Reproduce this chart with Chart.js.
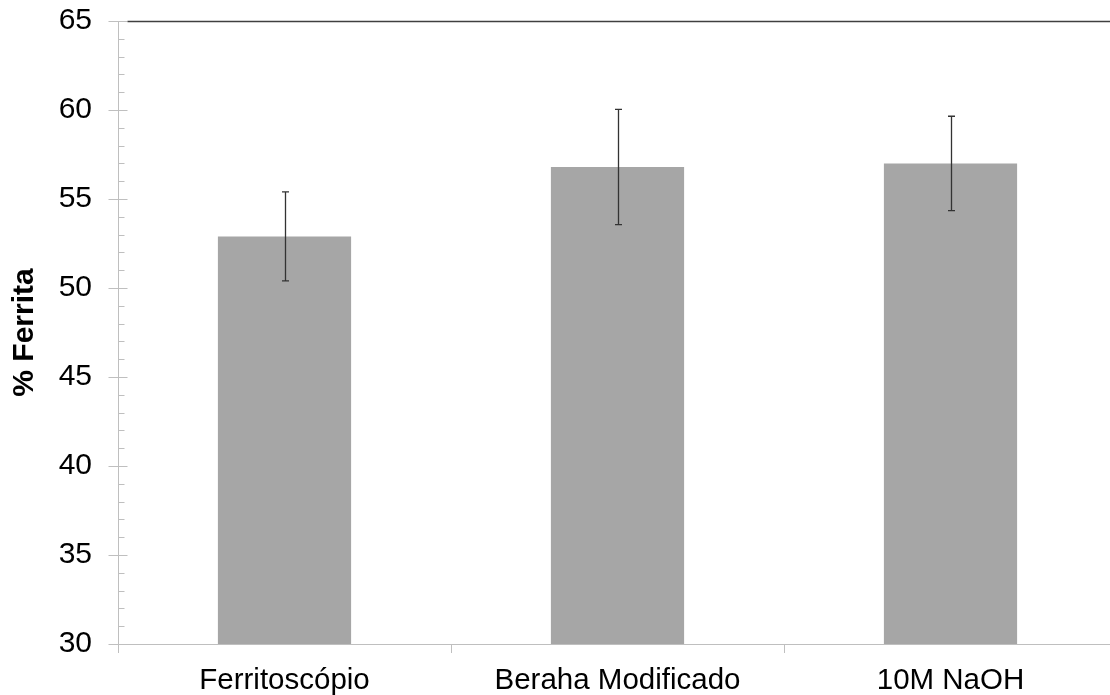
<!DOCTYPE html>
<html>
<head>
<meta charset="utf-8">
<script src="https://cdn.jsdelivr.net/npm/chart.js@4.4.1/dist/chart.umd.min.js"></script>
<style>
  html, body { margin: 0; padding: 0; background: #ffffff; overflow: hidden; }
  #wrap { width: 1110px; height: 695px; position: relative; overflow: hidden; }
  #chart { position: absolute; left: 0; top: 0; }
</style>
</head>
<body>
<!-- the plot area runs a few pixels past the right edge of the frame -->
<div id="wrap"><canvas id="chart" width="1117" height="695"></canvas></div>
<script>
// Ferrite content measured by each method (mean and standard deviation)
const categories = ['Ferritoscópio', 'Beraha Modificado', '10M NaOH'];
const ferritaMedia = [52.9, 56.8, 57.0];
const ferritaDesvio = [2.5, 3.24, 2.65];
const yMin = 30;
const yMax = 65;
const yMajorStep = 5;
const yMinorStep = 1;

const FONT = "'Liberation Sans', Arial, sans-serif";
const AXIS_GREY = '#bfbfbf';

// Error bars, y-axis minor/major ticks and the top frame line
const decorations = {
  id: 'decorations',
  afterDatasetsDraw(chart) {
    const ctx = chart.ctx;
    const meta = chart.getDatasetMeta(0);
    const y = chart.scales.y;
    ctx.save();
    ctx.strokeStyle = '#333333';
    ctx.lineWidth = 1.3;
    meta.data.forEach((bar, i) => {
      const x = Math.round(bar.x) + 0.5;
      const top = y.getPixelForValue(ferritaMedia[i] + ferritaDesvio[i]);
      const bot = y.getPixelForValue(ferritaMedia[i] - ferritaDesvio[i]);
      ctx.beginPath();
      ctx.moveTo(x, top); ctx.lineTo(x, bot);
      ctx.moveTo(x - 3.5, top); ctx.lineTo(x + 3.5, top);
      ctx.moveTo(x - 3.5, bot); ctx.lineTo(x + 3.5, bot);
      ctx.stroke();
    });
    ctx.restore();
  },
  afterDraw(chart) {
    const ctx = chart.ctx;
    const y = chart.scales.y;
    const area = chart.chartArea;
    const ax = Math.round(area.left) + 0.5;
    ctx.save();
    ctx.strokeStyle = AXIS_GREY;
    ctx.lineWidth = 1;
    for (let v = yMin; v <= yMax; v += yMinorStep) {
      const py = Math.round(y.getPixelForValue(v)) + 0.5;
      const major = (v - yMin) % yMajorStep === 0;
      ctx.beginPath();
      if (major) { ctx.moveTo(ax - 10, py); ctx.lineTo(ax + 9, py); }
      else { ctx.moveTo(ax, py); ctx.lineTo(ax + 6, py); }
      ctx.stroke();
    }
    // top frame
    ctx.strokeStyle = '#404040';
    ctx.lineWidth = 1.5;
    const ty = Math.round(y.getPixelForValue(yMax)) + 0.5;
    ctx.beginPath();
    ctx.moveTo(ax + 9, ty); ctx.lineTo(area.right, ty);
    ctx.stroke();
    ctx.restore();
  }
};

new Chart(document.getElementById('chart'), {
  type: 'bar',
  data: {
    labels: categories,
    datasets: [{
      data: ferritaMedia,
      backgroundColor: '#a6a6a6',
      borderWidth: 0,
      categoryPercentage: 1.0,
      barPercentage: 0.40
    }]
  },
  options: {
    responsive: false,
    animation: false,
    devicePixelRatio: 1,
    layout: { padding: { top: 21, right: 0, left: 0, bottom: 0 } },
    plugins: { legend: { display: false }, tooltip: { enabled: false } },
    scales: {
      x: {
        grid: { display: true, drawOnChartArea: false, offset: true, drawTicks: true, tickLength: 9, color: AXIS_GREY },
        border: { display: true, color: AXIS_GREY, width: 1 },
        ticks: { color: '#000000', padding: 10, font: { family: FONT, size: 29.5 }, maxRotation: 0 },
        afterFit(axis) {
          axis.height = 51;
          axis.paddingLeft = 0; axis.paddingRight = 0;
        }
      },
      y: {
        min: yMin,
        max: yMax,
        grid: { display: false, drawTicks: false },
        border: { display: true, color: AXIS_GREY, width: 1 },
        ticks: { stepSize: yMajorStep, color: '#000000', padding: 26, font: { family: FONT, size: 30 } },
        title: { display: true, text: '% Ferrita', color: '#000000', font: { family: FONT, size: 30, weight: 'bold' }, padding: { top: 7, bottom: 0 } },
        afterFit(axis) {
          axis.width = 118;
          axis.paddingTop = 0; axis.paddingBottom = 0;
        }
      }
    }
  },
  plugins: [decorations]
});
</script>
</body>
</html>
